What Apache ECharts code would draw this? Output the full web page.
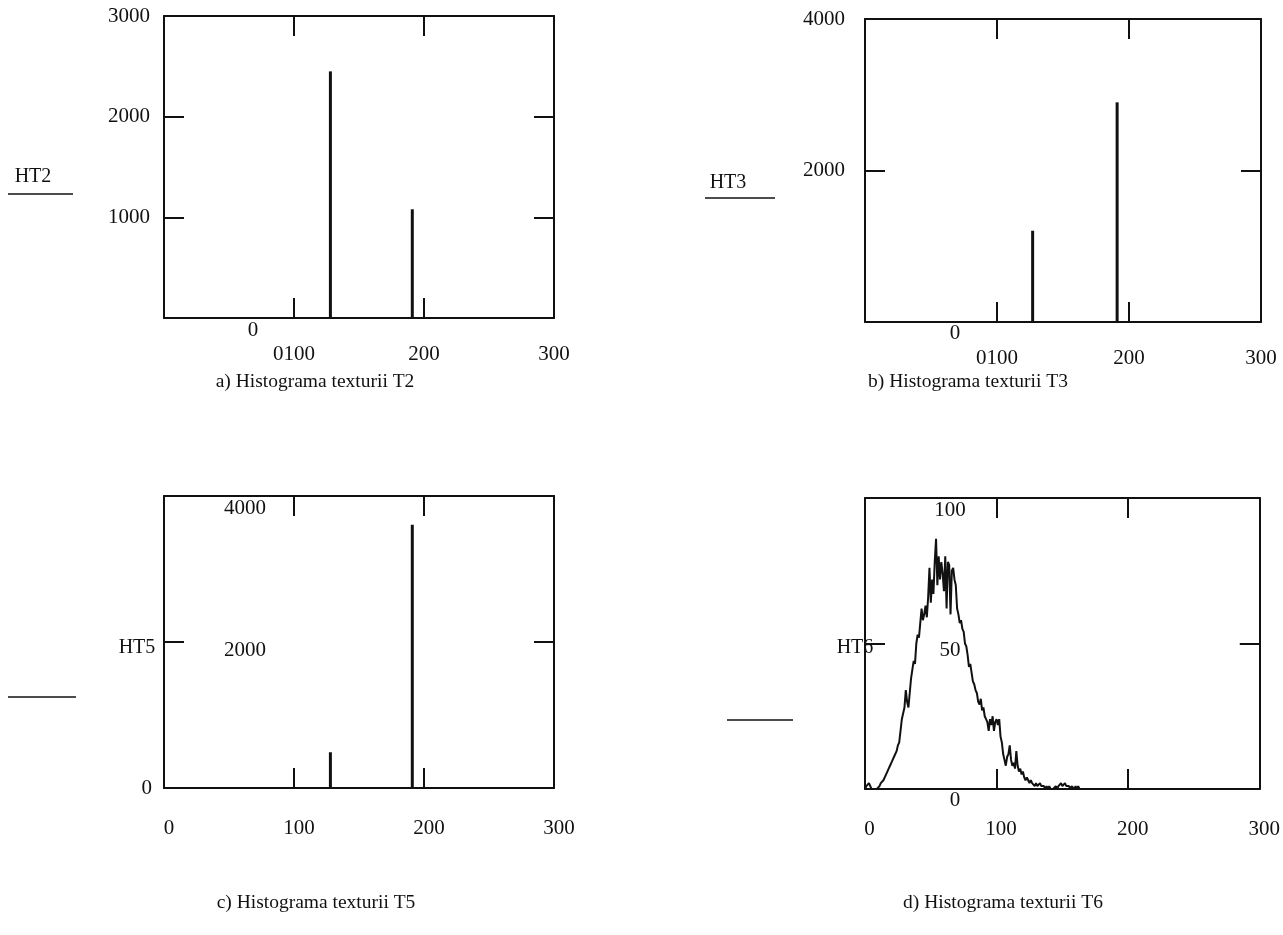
<!DOCTYPE html>
<html><head><meta charset="utf-8">
<script src="https://cdn.jsdelivr.net/npm/echarts@6/dist/echarts.min.js"></script>
<style>html,body{margin:0;padding:0;background:#fff}#c{width:1283px;height:935px}</style>
</head><body><div id="c"></div>
<script>
// ---- data ----
const binCount = 256;           // grey levels 0..255
const xTickValues = [0, 100, 200, 300];
// a) T2 : non-empty bins and counts
const ht2Bins = [128, 191];
const ht2Vals = [2450, 1080];
// b) T3
const ht3Bins = [127, 191];
const ht3Vals = [1205, 2900];
// c) T5
const ht5Bins = [128, 191];
const ht5Vals = [490, 3605];
// d) T6 : counts for grey levels 0..163 (rest are 0)
const ht6Vals = [
  0,1,1,2,1,0,0,0,0,0,
  0,1,2,2,3,4,4,6,7,8,
  9,10,11,11,13,15,16,20,24,26,
  28,34,30,28,33,38,41,44,43,50,
  53,52,57,62,58,60,63,59,66,76,
  64,72,67,78,86,70,80,72,78,74,
  68,80,62,78,77,60,75,76,72,70,
  62,60,57,58,55,54,50,49,46,42,
  43,40,37,36,34,33,30,29,31,27,
  28,25,24,23,20,24,22,25,20,23,
  24,22,24,18,16,12,10,8,11,12,
  15,10,8,9,7,13,8,6,7,5,
  6,4,3,4,3,2,3,2,2,1,
  2,1,1,2,1,1,1,0,1,0,
  1,0,0,0,0,1,0,1,1,2,
  1,1,2,1,1,1,0,1,1,0,
  1,0,1,0
];
const yMax = [3000, 4000, 4000, 100];
const yStep = [1000, 2000, 2000, 50];
const names = ['HT2', 'HT3', 'HT5', 'HT6'];
const titles = ['a) Histograma texturii T2', 'b) Histograma texturii T3',
                'c) Histograma texturii T5', 'd) Histograma texturii T6'];

// ---- build ----
function spikes(bins, vals) {
  return bins.map((b, k) => [b, vals[k]]);
}
function full(vals) {
  const arr = new Array(binCount).fill(0);
  vals.forEach((v, i) => { arr[i] = v; });
  return arr.map((v, i) => [i, v]);
}
const seriesData = [spikes(ht2Bins, ht2Vals), spikes(ht3Bins, ht3Vals),
                    spikes(ht5Bins, ht5Vals), full(ht6Vals)];

const FONT = 'Liberation Serif';
const BLACK = '#111';
const TICK_FS = 21;
const grids = [
  {left: 164, top: 16, width: 390, height: 302},
  {left: 865, top: 19, width: 396, height: 303},
  {left: 164, top: 496, width: 390, height: 292},
  {left: 865, top: 498, width: 396, height: 291}
];
const axisLine = {show: true, onZero: false, lineStyle: {color: BLACK, width: 2}};
const axisTick = {show: true, inside: true, length: 20, lineStyle: {color: BLACK, width: 2}};

const xAxes = [], yAxes = [], series = [];
const xLabelCfg = [
  {show: true, margin: 26, formatter: v => v === 0 ? '' : (v === 100 ? '0100' : String(v))},
  {show: true, margin: 26, formatter: v => v === 0 ? '' : (v === 100 ? '0100' : String(v))},
  {show: true, margin: 30, padding: [0, 0, 0, 10], formatter: v => String(v)},
  {show: true, margin: 30, padding: [0, 0, 0, 9], formatter: v => String(v)}
];
const yLabelCfg = [
  {show: true, margin: 14, padding: [18, 0, 0, 0], formatter: v => v === 0 ? '' : String(v)},
  {show: true, margin: 20, padding: [16, 0, 0, 0], formatter: v => v === 0 ? '' : String(v)},
  {show: true, margin: 12, padding: [18, 0, 0, 0], formatter: v => v === 0 ? '0' : ''},
  {show: false}
];
for (let i = 0; i < 4; i++) {
  const xl = Object.assign({color: BLACK, fontFamily: FONT, fontSize: TICK_FS, showMinLabel: true, showMaxLabel: true}, xLabelCfg[i]);
  const yl = Object.assign({color: BLACK, fontFamily: FONT, fontSize: TICK_FS, showMinLabel: true, showMaxLabel: true}, yLabelCfg[i]);
  xAxes.push({gridIndex: i, type: 'value', position: 'bottom', min: xTickValues[0], max: xTickValues[xTickValues.length - 1],
    interval: 100, axisLine, axisTick, splitLine: {show: false}, axisLabel: xl});
  xAxes.push({gridIndex: i, type: 'value', position: 'top', min: xTickValues[0], max: xTickValues[xTickValues.length - 1],
    interval: 100, axisLine, axisTick, splitLine: {show: false}, axisLabel: {show: false}});
  yAxes.push({gridIndex: i, type: 'value', position: 'left', min: 0, max: yMax[i], interval: yStep[i],
    axisLine, axisTick, splitLine: {show: false}, axisLabel: yl});
  yAxes.push({gridIndex: i, type: 'value', position: 'right', min: 0, max: yMax[i], interval: yStep[i],
    axisLine, axisTick, splitLine: {show: false}, axisLabel: {show: false}});
  if (i < 3) {
    series.push({type: 'bar', xAxisIndex: 2 * i, yAxisIndex: 2 * i, data: seriesData[i],
      barWidth: 3, animation: false, itemStyle: {color: BLACK}});
  } else {
    series.push({type: 'line', xAxisIndex: 2 * i, yAxisIndex: 2 * i, data: seriesData[i],
      showSymbol: false, symbol: 'none', animation: false, clip: true,
      lineStyle: {color: BLACK, width: 2}, itemStyle: {color: BLACK}});
  }
}

function txt(text, x, y, size) {
  return {type: 'text', silent: true, style: {text, x, y, align: 'center', verticalAlign: 'middle',
    font: (size || TICK_FS) + 'px "' + FONT + '"', fill: BLACK}};
}
function hline(x1, x2, y) {
  return {type: 'line', silent: true, shape: {x1, y1: y, x2, y2: y}, style: {stroke: BLACK, lineWidth: 1.5}};
}
const graphic = [
  txt(names[0], 33, 177, 20), hline(8, 73, 194),
  txt(names[1], 728, 183, 20), hline(705, 775, 198),
  txt(names[2], 137, 648, 20), hline(8, 76, 697),
  txt(names[3], 855, 648, 20), hline(727, 793, 720),
  txt('0', 253, 330), txt('0', 955, 333), txt('0', 955, 800),
  txt('4000', 245, 508), txt('2000', 245, 650),
  txt('100', 950, 510), txt('50', 950, 650),
  txt(titles[0], 315, 382, 19.5), txt(titles[1], 968, 382, 19.5),
  txt(titles[2], 316, 903, 19.5), txt(titles[3], 1003, 903, 19.5)
];

const chart = echarts.init(document.getElementById('c'), null, {renderer: 'canvas'});
chart.setOption({
  backgroundColor: '#fff',
  animation: false,
  grid: grids,
  xAxis: xAxes,
  yAxis: yAxes,
  series,
  graphic
});
</script></body></html>
